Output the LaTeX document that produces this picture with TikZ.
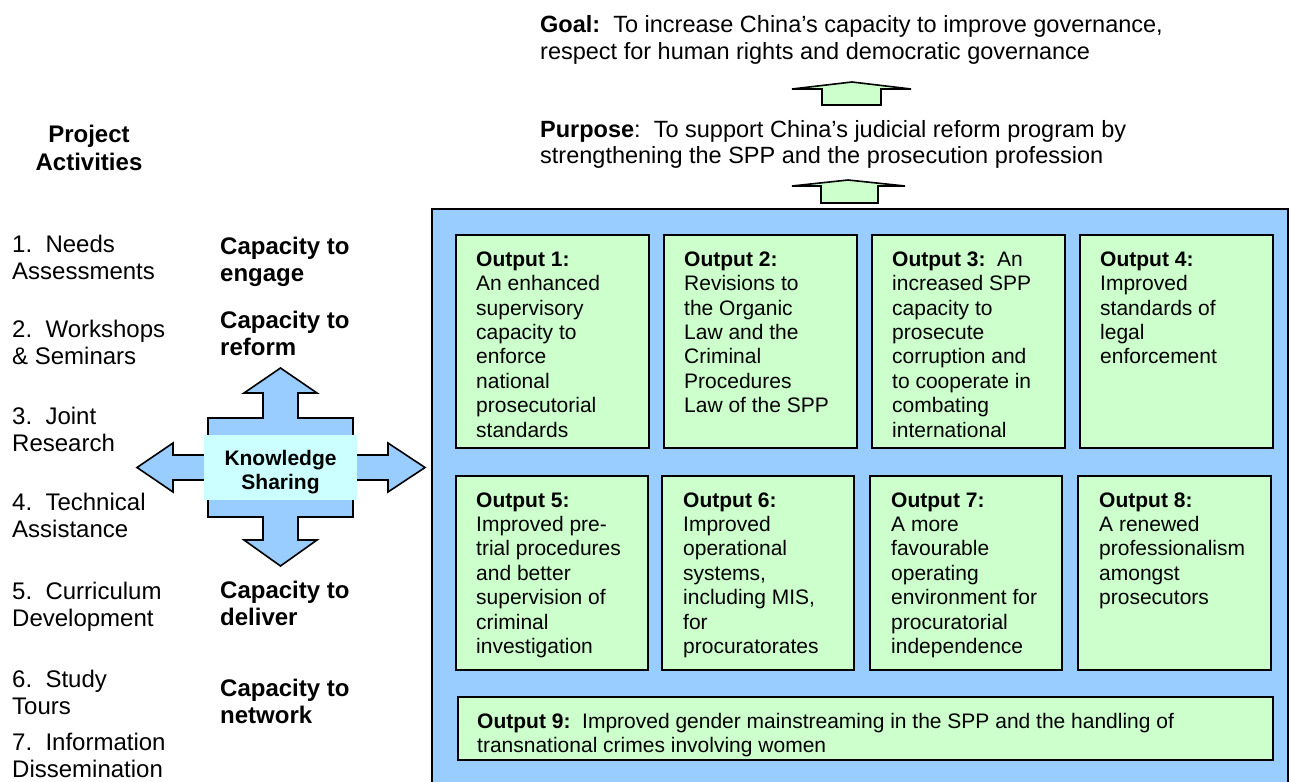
\documentclass[tikz,border=0pt]{standalone}
\usepackage{fontspec}
\setmainfont{Liberation Sans}
\definecolor{boxgreen}{HTML}{CCFFCC}
\definecolor{panelblue}{HTML}{99CCFF}
\definecolor{kscyan}{HTML}{CCFFFF}
% note: base anchor of a multi-line node = baseline of its LAST line
\tikzset{
  bigtxt/.style={anchor=base west, inner sep=0pt, align=left, font=\fontsize{24}{27}\selectfont},
  toptxt/.style={anchor=base west, inner sep=0pt, align=left, font=\fontsize{23.5}{26.5}\selectfont},
  captxt/.style={anchor=base west, inner sep=0pt, align=left, font=\bfseries\fontsize{24}{27}\selectfont},
  outtxt/.style={anchor=base west, inner sep=0pt, align=left, font=\fontsize{21}{24.4}\selectfont},
  outbox/.style={draw=black, fill=boxgreen, line width=1.6pt},
  shapeline/.style={draw=black, line width=1.6pt, line join=miter},
}
\begin{document}
\begin{tikzpicture}[x=1pt,y=-1pt]
\useasboundingbox (0,0) rectangle (1289,781);

% top texts
\node[toptxt] (goal) at (540,59.5) {\textbf{Goal:}\ \ To increase China’s capacity to improve governance,\\respect for human rights and democratic governance};
\node[toptxt] (purpose) at (540,163.5) {\textbf{Purpose}:\ \ To support China’s judicial reform program by\\strengthening the SPP and the prosecution profession};

% small up arrows
\path[shapeline, fill=boxgreen] (792,89) -- (852,82) -- (911,89) -- (881,89) -- (881,105) -- (822,105) -- (822,89) -- cycle;
\path[shapeline, fill=boxgreen] (792,186) -- (848,180) -- (905,186) -- (878,186) -- (878,203) -- (821,203) -- (821,186) -- cycle;

% blue panel
\path[draw=black, line width=1.6pt, fill=panelblue] (432,209) rectangle (1288,800);

% output boxes row 1
\path[outbox] (456,235) rectangle (649,448);
\path[outbox] (664,235) rectangle (857,448);
\path[outbox] (872,235) rectangle (1065,448);
\path[outbox] (1080,235) rectangle (1273,448);
% row 2
\path[outbox] (456,476) rectangle (648,670);
\path[outbox] (662,476) rectangle (854,670);
\path[outbox] (870,476) rectangle (1062,670);
\path[outbox] (1078,476) rectangle (1271,670);
% output 9
\path[outbox] (458,697) rectangle (1273,760);

\node[outtxt] (o1) at (476,437) {\textbf{Output 1:}\\An enhanced\\supervisory\\capacity to\\enforce\\national\\prosecutorial\\standards};
\node[outtxt] (o2) at (684,412.6) {\textbf{Output 2:}\\Revisions to\\the Organic\\Law and the\\Criminal\\Procedures\\Law of the SPP};
\node[outtxt] (o3) at (892,437) {\textbf{Output 3:}\ \ An\\increased SPP\\capacity to\\prosecute\\corruption and\\to cooperate in\\combating\\international};
\node[outtxt] (o4) at (1100,363.8) {\textbf{Output 4:}\\Improved\\standards of\\legal\\enforcement};
\node[outtxt] (o5) at (476,653.4) {\textbf{Output 5:}\\Improved pre-\\trial procedures\\and better\\supervision of\\criminal\\investigation};
\node[outtxt] (o6) at (683,653.4) {\textbf{Output 6:}\\Improved\\operational\\systems,\\including MIS,\\for\\procuratorates};
\node[outtxt] (o7) at (891,653.4) {\textbf{Output 7:}\\A more\\favourable\\operating\\environment for\\procuratorial\\independence};
\node[outtxt] (o8) at (1099,604.6) {\textbf{Output 8:}\\A renewed\\professionalism\\amongst\\prosecutors};
\begin{scope}
\clip (458,697) rectangle (1273,757);
\node[outtxt] (o9) at (477,752.4) {\textbf{Output 9:}\ \ Improved gender mainstreaming in the SPP and the handling of\\transnational crimes involving women};
\end{scope}

% left column
\node[anchor=base, inner sep=0pt, align=center, font=\bfseries\fontsize{24}{28}\selectfont] (pa) at (89,170) {Project\\Activities};
\node[bigtxt] (a1) at (12,279) {1.\ \ Needs\\Assessments};
\node[bigtxt] (a2) at (12,364) {2.\ \ Workshops\\\& Seminars};
\node[bigtxt] (a3) at (12,451) {3.\ \ Joint\\Research};
\node[bigtxt] (a4) at (12,537) {4.\ \ Technical\\Assistance};
\node[bigtxt] (a5) at (12,626) {5.\ \ Curriculum\\Development};
\node[bigtxt] (a6) at (12,714) {6.\ \ Study\\Tours};
\node[bigtxt] (a7) at (12,777) {7.\ \ Information\\Dissemination};

% capacity labels
\node[captxt] (c1) at (220,281) {Capacity to\\engage};
\node[captxt] (c2) at (220,355) {Capacity to\\reform};
\node[captxt] (c3) at (220,625) {Capacity to\\deliver};
\node[captxt] (c4) at (220,723) {Capacity to\\network};

% cross arrow
\path[shapeline, fill=panelblue]
  (280.5,368) -- (317,393) -- (298,393) -- (298,418) -- (353,418) -- (353,455)
  -- (388,455) -- (388,443) -- (425,467.5) -- (388,492) -- (388,480) -- (353,480)
  -- (353,517) -- (298,517) -- (298,540) -- (317,540) -- (280.5,566) -- (244,540)
  -- (263,540) -- (263,517) -- (208,517) -- (208,480) -- (173,480) -- (173,492)
  -- (137,467.5) -- (173,443) -- (173,455) -- (208,455) -- (208,418) -- (263,418)
  -- (263,393) -- (244,393) -- cycle;
\path[fill=kscyan] (204,435) rectangle (357,500);
\node[anchor=base, inner sep=0pt, align=center, font=\bfseries\fontsize{21}{24}\selectfont] (ks) at (280.5,489) {Knowledge\\Sharing};
\end{tikzpicture}
\end{document}
